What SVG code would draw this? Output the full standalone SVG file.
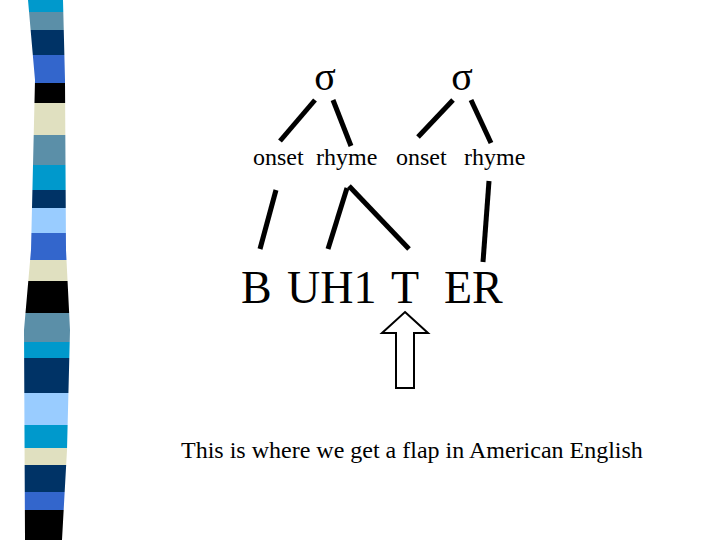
<svg xmlns="http://www.w3.org/2000/svg" width="720" height="540" viewBox="0 0 720 540">
<style>
.l{stroke:#000;stroke-width:5;fill:none;stroke-linecap:butt}
</style>
<defs><clipPath id="c"><path d="M28,0 L35,80 L31,250 L24,330 L25,540 L62,540 L67,450 L70,330 L66,250 L65,80 L63,0 Z"/></clipPath></defs>
<rect width="720" height="540" fill="#fff"/>
<g id="stripe" clip-path="url(#c)">
<rect y="0" width="80" height="12" fill="#0099cc"/>
<rect y="12" width="80" height="18" fill="#5b8fa8"/>
<rect y="30" width="80" height="25" fill="#003366"/>
<rect y="55" width="80" height="28" fill="#3366cc"/>
<rect y="83" width="80" height="20" fill="#000"/>
<rect y="103" width="80" height="32" fill="#e0e0c0"/>
<rect y="135" width="80" height="30" fill="#5b8fa8"/>
<rect y="165" width="80" height="25" fill="#0099cc"/>
<rect y="190" width="80" height="18" fill="#003366"/>
<rect y="208" width="80" height="25" fill="#99ccff"/>
<rect y="233" width="80" height="27" fill="#3366cc"/>
<rect y="260" width="80" height="21" fill="#e0e0c0"/>
<rect y="281" width="80" height="32" fill="#000"/>
<rect y="313" width="80" height="29" fill="#5b8fa8"/>
<rect y="342" width="80" height="16" fill="#0099cc"/>
<rect y="358" width="80" height="35" fill="#003366"/>
<rect y="393" width="80" height="32" fill="#99ccff"/>
<rect y="425" width="80" height="23" fill="#0099cc"/>
<rect y="448" width="80" height="17" fill="#e0e0c0"/>
<rect y="465" width="80" height="27" fill="#003366"/>
<rect y="492" width="80" height="18" fill="#3366cc"/>
<rect y="510" width="80" height="30" fill="#000"/>
</g>
<g font-family="'Liberation Serif', 'Times New Roman', 'DejaVu Serif', serif" fill="#000">
<g id="sigma1"><text x="325" y="90" font-size="40" text-anchor="middle">σ</text></g>
<g id="sigma2"><text x="462" y="90" font-size="40" text-anchor="middle">σ</text></g>
<g id="labels" font-size="24">
<text x="253" y="165">onset</text>
<text x="316" y="165">rhyme</text>
<text x="396" y="165">onset</text>
<text x="464" y="165">rhyme</text>
</g>
<g id="segments" font-size="46">
<text x="241" y="303">B</text>
<text x="287" y="303">UH1</text>
<text x="391" y="303">T</text>
<text x="444" y="303">ER</text>
</g>
<g id="caption"><text x="181" y="458" font-size="24">This is where we get a flap in American English</text></g>
</g>
<g id="connectors">
<path class="l" d="M315,100 L280,141"/>
<path class="l" d="M333,100 L351,146"/>
<path class="l" d="M453,100 L418,137"/>
<path class="l" d="M471,100 L491,143"/>
<path class="l" d="M276,190 L260,249"/>
<path class="l" d="M347,188 L328,249"/>
<path class="l" d="M349,186 L409,249"/>
<path class="l" d="M489,181 L483,262"/>
</g>
<g id="arrow"><path d="M405,312 L428,333 L414,333 L414,388 L396,388 L396,333 L382,333 Z" fill="#fff" stroke="#000" stroke-width="2"/></g>
</svg>
